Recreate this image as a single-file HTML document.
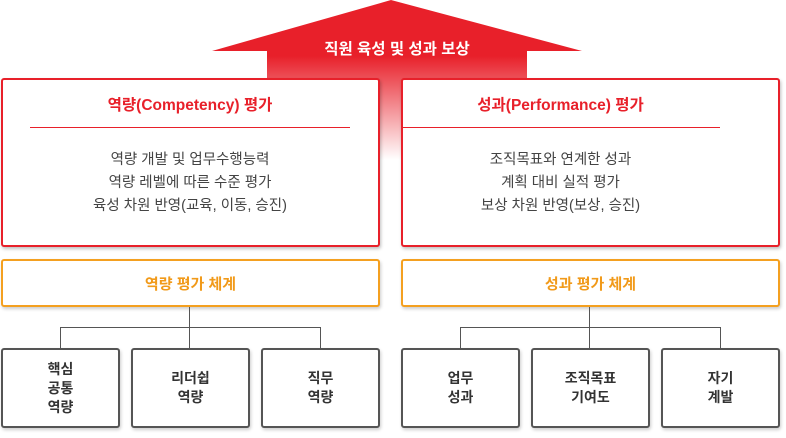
<!DOCTYPE html>
<html><head><meta charset="utf-8"><style>
body{margin:0;width:786px;height:438px;background:#fff;position:relative;overflow:hidden;font-family:"Liberation Sans","Noto Sans CJK KR",sans-serif}
.a{position:absolute;box-sizing:border-box}
.red{border:2px solid #e8202a;border-radius:3px;background:#fff;box-shadow:1px 2px 3px rgba(0,0,0,.25)}
.org{border:2px solid #f4a020;border-radius:3px;background:#fff;color:#f19a1a;font-weight:bold;font-size:15px;display:flex;align-items:center;justify-content:center;box-shadow:1px 2px 3px rgba(0,0,0,.2)}
.gr{border:2px solid #555;border-radius:3px;background:#fff;color:#333;font-weight:bold;font-size:14px;line-height:19px;display:flex;align-items:center;justify-content:center;text-align:center;box-shadow:1px 2px 3px rgba(0,0,0,.2)}
.t{position:absolute;text-align:center;font-size:15.5px;font-weight:bold;color:#e8202a}
.b{position:absolute;text-align:center;font-size:14.5px;color:#444;line-height:23px}
.ln{position:absolute;background:#555}
</style></head><body>
<svg class="a" style="left:0;top:0" width="786" height="160">
<defs><linearGradient id="g" x1="0" y1="0" x2="0" y2="1"><stop offset="0" stop-color="#e8202a"/><stop offset="0.35" stop-color="#e8202a"/><stop offset="1" stop-color="#fff"/></linearGradient></defs>
<polygon points="391,0 582,51 527,51 527,160 267,160 267,51 212,51" fill="url(#g)"/>
</svg>
<div class="a" style="left:267px;top:37px;width:260px;text-align:center;color:#fff;font-weight:bold;font-size:15.5px">직원 육성 및 성과 보상</div>
<div class="a red" style="left:1px;top:78px;width:379px;height:169px"></div>
<div class="a red" style="left:401px;top:78px;width:379px;height:169px"></div>
<div class="t" style="left:30px;width:320px;top:93px">역량(Competency) 평가</div>
<div class="a" style="left:30px;top:127px;width:320px;height:1px;background:#e8202a"></div>
<div class="b" style="left:30px;width:320px;top:149px">역량 개발 및 업무수행능력<br>역량 레벨에 따른 수준 평가<br>육성 차원 반영(교육, 이동, 승진)</div>
<div class="t" style="left:401px;width:319px;top:93px">성과(Performance) 평가</div>
<div class="a" style="left:402px;top:127px;width:318px;height:1px;background:#e8202a"></div>
<div class="b" style="left:401px;width:319px;top:149px">조직목표와 연계한 성과<br>계획 대비 실적 평가<br>보상 차원 반영(보상, 승진)</div>
<div class="a org" style="left:1px;top:259px;width:379px;height:48px">역량 평가 체계</div>
<div class="a org" style="left:401px;top:259px;width:379px;height:48px">성과 평가 체계</div>
<div class="ln" style="left:189px;top:307px;width:1px;height:41px"></div>
<div class="ln" style="left:60px;top:327px;width:261px;height:1px"></div>
<div class="ln" style="left:60px;top:327px;width:1px;height:21px"></div>
<div class="ln" style="left:320px;top:327px;width:1px;height:21px"></div>
<div class="ln" style="left:589px;top:307px;width:1px;height:41px"></div>
<div class="ln" style="left:460px;top:327px;width:261px;height:1px"></div>
<div class="ln" style="left:460px;top:327px;width:1px;height:21px"></div>
<div class="ln" style="left:720px;top:327px;width:1px;height:21px"></div>
<div class="a gr" style="left:1px;top:348px;width:119px;height:80px">핵심<br>공통<br>역량</div>
<div class="a gr" style="left:131px;top:348px;width:119px;height:80px">리더쉽<br>역량</div>
<div class="a gr" style="left:261px;top:348px;width:119px;height:80px">직무<br>역량</div>
<div class="a gr" style="left:401px;top:348px;width:119px;height:80px">업무<br>성과</div>
<div class="a gr" style="left:531px;top:348px;width:119px;height:80px">조직목표<br>기여도</div>
<div class="a gr" style="left:661px;top:348px;width:119px;height:80px">자기<br>계발</div>
</body></html>
